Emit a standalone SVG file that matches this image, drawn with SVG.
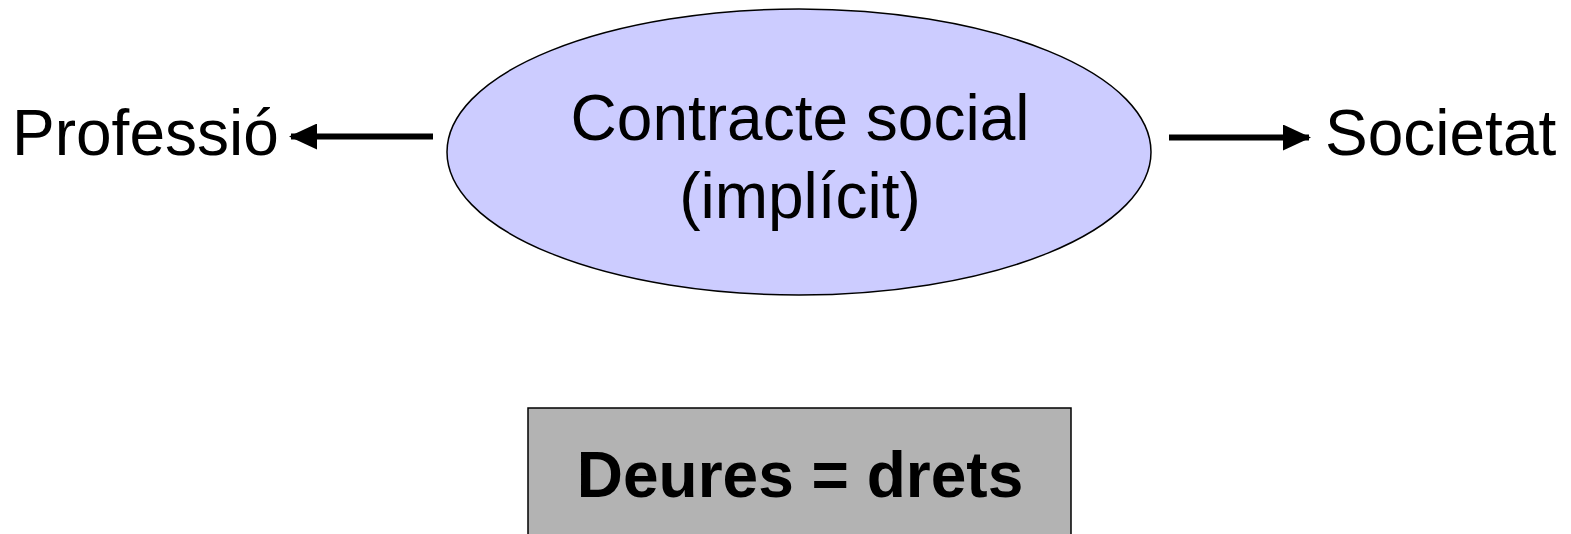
<svg xmlns="http://www.w3.org/2000/svg" width="1571" height="534" viewBox="0 0 1571 534">
<style>
text{font-family:"Liberation Sans",Arial,sans-serif;font-size:64px;fill:#000}
.c{text-anchor:middle}
.b{font-weight:bold}
.ln{stroke:#000;stroke-width:6;fill:none}
</style>
<defs>
<marker id="ah" viewBox="0 0 28 26" refX="26" refY="13" markerWidth="28" markerHeight="26" markerUnits="userSpaceOnUse" orient="auto">
<path d="M0,0 L28,13 L0,26 Z" fill="#000"/>
</marker>
</defs>
<rect width="1571" height="534" fill="#fff"/>
<g id="contracte">
<ellipse cx="799" cy="152" rx="352" ry="143" fill="#CCCCFF" stroke="#000" stroke-width="1.5"/>
<text class="c" x="800" y="140">Contracte social</text>
<text class="c" x="800" y="218">(implícit)</text>
</g>
<g id="professio"><text x="12" y="155">Professió</text></g>
<g id="societat"><text x="1325" y="155">Societat</text></g>
<g id="deures">
<rect x="528" y="408" width="543" height="140" fill="#B3B3B3" stroke="#000" stroke-width="1.5"/>
<text class="c b" x="800" y="497">Deures = drets</text>
</g>
<g id="connectors">
<line class="ln" x1="433" y1="136.5" x2="291" y2="136.5" marker-end="url(#ah)"/>
<line class="ln" x1="1169" y1="137.5" x2="1309" y2="137.5" marker-end="url(#ah)"/>
</g>
</svg>
